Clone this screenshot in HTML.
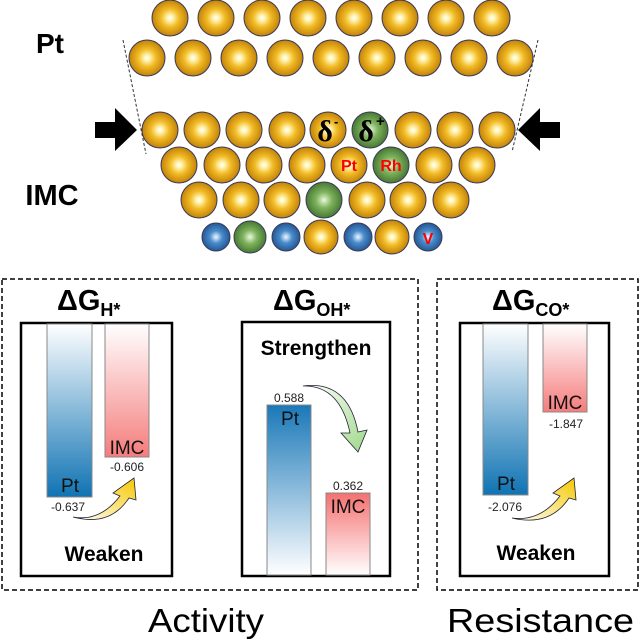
<!DOCTYPE html>
<html><head><meta charset="utf-8"><style>body{margin:0;background:#fff}svg{display:block}</style></head><body>
<svg width="639" height="639" viewBox="0 0 639 639" xmlns="http://www.w3.org/2000/svg" font-family="Liberation Sans, Arial, sans-serif">
<defs>
<radialGradient id="gold" cx="0.5" cy="0.5" r="0.55"><stop offset="0" stop-color="#ffffff"/><stop offset="0.15" stop-color="#fff3b0"/><stop offset="0.45" stop-color="#f2bb26"/><stop offset="0.85" stop-color="#c98a0c"/><stop offset="1" stop-color="#8a5c06"/></radialGradient>
<radialGradient id="green" cx="0.5" cy="0.5" r="0.55"><stop offset="0" stop-color="#e8f8dc"/><stop offset="0.4" stop-color="#7fb35d"/><stop offset="1" stop-color="#3d6e2c"/></radialGradient>
<radialGradient id="blue" cx="0.5" cy="0.5" r="0.55"><stop offset="0" stop-color="#f0f8ff"/><stop offset="0.4" stop-color="#4a8ccc"/><stop offset="1" stop-color="#1d4f8a"/></radialGradient>
<linearGradient id="bdown" x1="0" y1="0" x2="0" y2="1"><stop offset="0" stop-color="#fff"/><stop offset="1" stop-color="#0f73b3"/></linearGradient>
<linearGradient id="bup" x1="0" y1="0" x2="0" y2="1"><stop offset="0" stop-color="#1a78b8"/><stop offset="1" stop-color="#fff"/></linearGradient>
<linearGradient id="rdown" x1="0" y1="0" x2="0" y2="1"><stop offset="0" stop-color="#fff"/><stop offset="1" stop-color="#f57c7c"/></linearGradient>
<linearGradient id="rup" x1="0" y1="0" x2="0" y2="1"><stop offset="0" stop-color="#f57070"/><stop offset="1" stop-color="#fff"/></linearGradient>
<linearGradient id="yel" x1="0" y1="1" x2="1" y2="0"><stop offset="0" stop-color="#fff"/><stop offset="1" stop-color="#f5c800"/></linearGradient>
<linearGradient id="grn" x1="0" y1="0" x2="1" y2="1"><stop offset="0" stop-color="#fff"/><stop offset="1" stop-color="#9fd88a"/></linearGradient>
</defs>
<g stroke="#3a3a5a" stroke-width="1">
<g fill="url(#gold)">
<circle cx="170" cy="18" r="18"/><circle cx="216" cy="18" r="18"/><circle cx="262" cy="18" r="18"/><circle cx="308" cy="18" r="18"/><circle cx="354" cy="18" r="18"/><circle cx="400" cy="18" r="18"/><circle cx="446" cy="18" r="18"/><circle cx="492" cy="18" r="18"/>
<circle cx="147" cy="58" r="18"/><circle cx="193" cy="58" r="18"/><circle cx="239" cy="58" r="18"/><circle cx="285" cy="58" r="18"/><circle cx="331" cy="58" r="18"/><circle cx="377" cy="58" r="18"/><circle cx="423" cy="58" r="18"/><circle cx="469" cy="58" r="18"/><circle cx="515" cy="58" r="18"/>
<circle cx="160" cy="130" r="18"/><circle cx="202" cy="130" r="18"/><circle cx="244" cy="130" r="18"/><circle cx="287" cy="130" r="18"/><circle cx="328" cy="130" r="18"/><circle cx="413" cy="130" r="18"/><circle cx="455" cy="130" r="18"/><circle cx="497" cy="130" r="18"/>
<circle cx="179" cy="165" r="18"/><circle cx="222" cy="165" r="18"/><circle cx="264" cy="165" r="18"/><circle cx="307" cy="165" r="18"/><circle cx="349" cy="165" r="18"/><circle cx="434" cy="165" r="18"/><circle cx="477" cy="165" r="18"/>
<circle cx="199" cy="200" r="18"/><circle cx="241" cy="200" r="18"/><circle cx="282" cy="200" r="18"/><circle cx="367" cy="200" r="18"/><circle cx="408" cy="200" r="18"/><circle cx="451" cy="200" r="18"/>
<circle cx="321" cy="237" r="17"/><circle cx="392" cy="237" r="17"/>
</g>
<g fill="url(#green)"><circle cx="370" cy="130" r="18"/><circle cx="391" cy="165" r="18"/><circle cx="324" cy="200" r="18"/><circle cx="250" cy="237" r="16"/></g>
<g fill="url(#blue)"><circle cx="216" cy="237" r="14"/><circle cx="286" cy="237" r="14"/><circle cx="358" cy="237" r="14"/><circle cx="428" cy="237" r="14"/></g>
</g>
<g stroke="#333" stroke-dasharray="3,2" stroke-width="1"><line x1="123" y1="40" x2="146" y2="154"/><line x1="538" y1="40" x2="512" y2="152"/></g>
<path d="M95,122 H115 V108 L137,130 L115,151 V138 H95Z" fill="#000"/>
<path d="M560,122 H540 V108 L518,130 L540,151 V138 H560Z" fill="#000"/>
<text x="325" y="141" font-family="Liberation Serif, serif" font-weight="bold" font-size="30" text-anchor="middle">δ</text><text x="334" y="126" font-size="13" font-weight="bold">-</text>
<text x="366" y="141" font-family="Liberation Serif, serif" font-weight="bold" font-size="30" text-anchor="middle">δ</text><text x="376" y="126" font-size="15" font-weight="bold">+</text>
<g fill="#f00" font-weight="bold" font-size="16" text-anchor="middle"><text x="349" y="171">Pt</text><text x="391" y="171">Rh</text><text x="428" y="244">V</text></g>
<text x="50" y="53" font-size="28" font-weight="bold" text-anchor="middle">Pt</text>
<text x="52" y="205" font-size="29" font-weight="bold" text-anchor="middle">IMC</text>
<g fill="none" stroke="#000" stroke-width="1.5" stroke-dasharray="5,3"><rect x="2" y="279" width="416" height="311"/><rect x="437" y="279" width="201" height="311"/></g>
<g fill="none" stroke="#000" stroke-width="2.5"><rect x="21" y="323" width="151" height="253"/><rect x="242" y="322" width="148" height="254"/><rect x="460" y="323" width="149" height="253"/></g>
<g stroke="#888" stroke-width="1">
<rect x="47" y="324" width="45" height="173" fill="url(#bdown)"/><rect x="105" y="324" width="44" height="133" fill="url(#rdown)"/>
<rect x="267" y="405" width="44" height="170" fill="url(#bup)"/><rect x="326" y="493" width="44" height="82" fill="url(#rup)"/>
<rect x="483" y="324" width="45" height="171" fill="url(#bdown)"/><rect x="543" y="324" width="44" height="88" fill="url(#rdown)"/>
</g>
<g font-size="19" text-anchor="middle" fill="#111"><text x="70" y="492">Pt</text><text x="127" y="454">IMC</text><text x="290" y="425">Pt</text><text x="348" y="513">IMC</text><text x="506" y="490">Pt</text><text x="565" y="409">IMC</text></g>
<g font-size="12" text-anchor="middle" fill="#222"><text x="68" y="511">-0.637</text><text x="127" y="471">-0.606</text><text x="289" y="402">0.588</text><text x="348" y="490">0.362</text><text x="505" y="511">-2.076</text><text x="566" y="428">-1.847</text></g>
<g stroke="#223" stroke-width="0.8">
<path d="M73,517 Q100,522 120,496 L113,493 L134,478 L136,500 L129,498 Q110,527 73,517Z" fill="url(#yel)"/>
<path d="M512,518 Q540,522 560,496 L553,493 L574,478 L576,500 L569,498 Q550,527 512,518Z" fill="url(#yel)"/>
<path d="M303,386 Q340,385 350,433 L341,433 L358,452 L367,430 L358,432 Q348,380 303,386Z" fill="url(#grn)"/>
</g>
<g font-weight="bold" font-size="21" text-anchor="middle"><text x="104" y="561">Weaken</text><text x="316" y="355">Strengthen</text><text x="536" y="560">Weaken</text></g>
<g font-weight="bold" font-size="29"><text x="57" y="310">ΔG<tspan font-size="18" dy="6">H*</tspan></text><text x="273" y="310">ΔG<tspan font-size="18" dy="6">OH*</tspan></text><text x="492" y="310">ΔG<tspan font-size="18" dy="6">CO*</tspan></text></g>
<text x="148" y="632" font-size="33" textLength="116" lengthAdjust="spacingAndGlyphs">Activity</text>
<text x="447" y="632" font-size="33" textLength="187" lengthAdjust="spacingAndGlyphs">Resistance</text>
</svg>
</body></html>
